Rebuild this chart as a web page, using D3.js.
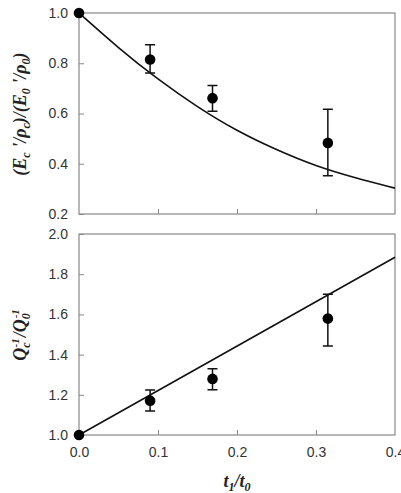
<!DOCTYPE html>
<html>
<head>
<meta charset="utf-8">
<script src="https://cdn.jsdelivr.net/npm/d3@7"></script>
<style>
  body { margin: 0; background: #fff; }
  .tick text { font-family: "Liberation Sans", Arial, sans-serif; font-size: 14px; fill: #333; }
  .lab { font-family: "Liberation Serif", "Times New Roman", serif; font-weight: bold; font-style: italic; fill: #222; }
</style>
</head>
<body>
<svg id="chart"></svg>
<script>
// measured points (t1/t0)
const tRatio = [0, 0.09, 0.169, 0.315];

// top panel: normalised specific modulus
const modVal = [1.0, 0.815, 0.661, 0.483];
const modHi = [null, 0.874, 0.711, 0.617];
const modLo = [null, 0.761, 0.609, 0.352];
// fitted curve
const modFitT = [0, 0.05, 0.1, 0.15, 0.2, 0.25, 0.3, 0.35, 0.4];
const modFitV = [1.0, 0.86, 0.735, 0.625, 0.53, 0.455, 0.39, 0.343, 0.303];

// bottom panel: normalised damping
const dampVal = [1.0, 1.171, 1.279, 1.579];
const dampHi = [null, 1.224, 1.33, 1.70];
const dampLo = [null, 1.119, 1.225, 1.443];
const dampFitT = [0, 0.4];
const dampFitV = [1.0, 1.884];

const xTicks = [0, 0.1, 0.2, 0.3, 0.4];
const modTicks = [0.2, 0.4, 0.6, 0.8, 1.0];
const dampTicks = [1.0, 1.2, 1.4, 1.6, 1.8, 2.0];

const w = 401, h = 493;
const left = 79, right = 395;
const svg = d3.select('#chart').attr('width', w).attr('height', h);

const x = d3.scaleLinear().domain([0, 0.4]).range([left, right]);

function panel(top, bottom, yDomain, yTicks, vals, hi, lo, fitT, fitV, showX) {
  const y = d3.scaleLinear().domain(yDomain).range([bottom, top]);
  const g = svg.append('g');

  g.append('rect')
    .attr('x', left).attr('y', top)
    .attr('width', right - left).attr('height', bottom - top)
    .attr('fill', 'none').attr('stroke', '#888').attr('stroke-width', 1.2);

  const ya = g.append('g')
    .attr('transform', `translate(${left},0)`)
    .call(d3.axisLeft(y).tickValues(yTicks).tickFormat(d3.format('.1f')).tickSize(-5).tickPadding(11));
  ya.select('.domain').remove();
  ya.selectAll('.tick line').attr('stroke', '#888');

  const xa = g.append('g')
    .attr('transform', `translate(0,${bottom})`)
    .call(d3.axisBottom(x).tickValues(xTicks).tickFormat(d3.format('.1f')).tickSize(-5).tickPadding(12));
  xa.select('.domain').remove();
  xa.selectAll('.tick line').attr('stroke', '#888');
  xa.selectAll('.tick').filter(d => d === 0 || d === 0.4).select('line').remove();
  if (!showX) xa.selectAll('.tick text').remove();

  const fit = fitT.map((t, i) => [t, fitV[i]]);
  g.append('path')
    .datum(fit)
    .attr('fill', 'none').attr('stroke', '#111').attr('stroke-width', 1.6)
    .attr('d', d3.line().x(d => x(d[0])).y(d => y(d[1])).curve(d3.curveBasis));

  const pts = tRatio.map((t, i) => ({ t, v: vals[i], hi: hi[i], lo: lo[i] }));
  const eb = pts.filter(d => d.hi !== null);
  const cap = 5;
  g.selectAll('.err').data(eb).enter().append('path')
    .attr('fill', 'none').attr('stroke', '#111').attr('stroke-width', 1.5)
    .attr('d', d => `M${x(d.t) - cap},${y(d.hi)}H${x(d.t) + cap}M${x(d.t)},${y(d.hi)}V${y(d.lo)}M${x(d.t) - cap},${y(d.lo)}H${x(d.t) + cap}`);
  g.selectAll('.dot').data(pts).enter().append('circle')
    .attr('cx', d => x(d.t)).attr('cy', d => y(d.v)).attr('r', 5.3)
    .attr('fill', '#000');
  return y;
}

panel(13, 214, [0.2, 1.0], modTicks, modVal, modHi, modLo, modFitT, modFitV, false);
panel(234, 435, [1.0, 2.0], dampTicks, dampVal, dampHi, dampLo, dampFitT, dampFitV, true);

// y label top
const t1 = svg.append('text').attr('class', 'lab').attr('font-size', 18)
  .attr('text-anchor', 'middle')
  .attr('transform', 'translate(26,114) rotate(-90)');
t1.append('tspan').text('(E');
t1.append('tspan').attr('font-size', 12).attr('dy', 4).text('c');
t1.append('tspan').attr('dy', -4).text(' \'/');
t1.append('tspan').text('ρ');
t1.append('tspan').attr('font-size', 12).attr('dy', 4).text('c');
t1.append('tspan').attr('dy', -4).text(')/(E');
t1.append('tspan').attr('font-size', 12).attr('dy', 4).text('0');
t1.append('tspan').attr('dy', -4).text(' \'/');
t1.append('tspan').text('ρ');
t1.append('tspan').attr('font-size', 12).attr('dy', 4).text('0');
t1.append('tspan').attr('dy', -4).text(')');

// y label bottom
const t2 = svg.append('text').attr('class', 'lab').attr('font-size', 18)
  .attr('text-anchor', 'middle')
  .attr('transform', 'translate(26,335) rotate(-90)');
t2.append('tspan').text('Q');
t2.append('tspan').attr('font-size', 12).attr('dy', 4).text('c');
t2.append('tspan').attr('font-size', 11).attr('dy', -11).attr('dx', -5).text('-1');
t2.append('tspan').attr('dy', 7).attr('dx', 1).text('/Q');
t2.append('tspan').attr('font-size', 12).attr('dy', 4).text('0');
t2.append('tspan').attr('font-size', 11).attr('dy', -11).attr('dx', -5).text('-1');

// x label
const t3 = svg.append('text').attr('class', 'lab').attr('font-size', 18)
  .attr('text-anchor', 'middle')
  .attr('x', x(0.2)).attr('y', 487);
t3.append('tspan').text('t');
t3.append('tspan').attr('font-size', 12).attr('dy', 4).text('1');
t3.append('tspan').attr('dy', -4).text('/t');
t3.append('tspan').attr('font-size', 12).attr('dy', 4).text('0');
</script>
</body>
</html>
